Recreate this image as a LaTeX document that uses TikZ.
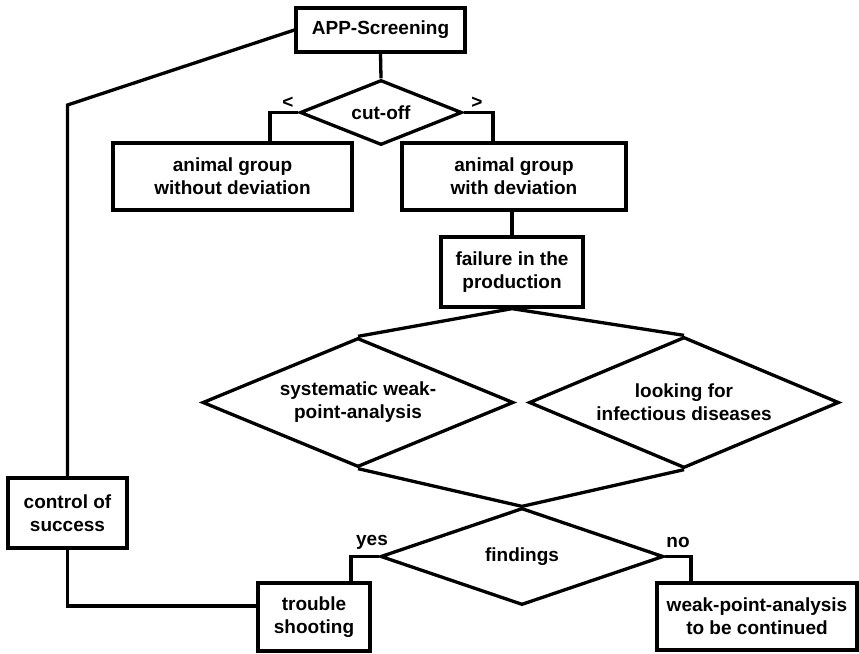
\documentclass[tikz,border=0pt]{standalone}
\usepackage{fontspec}
\setmainfont{Liberation Sans}
\usetikzlibrary{shapes.geometric, positioning}

\begin{document}
\begin{tikzpicture}[
  x=1pt, y=-1pt,
  every node/.style={font=\fontsize{19}{23}\selectfont\bfseries},
  box/.style={draw, line width=3.3pt, inner sep=0pt, align=center},
  dia/.style={draw, diamond, line width=3.3pt, inner sep=0pt, align=center},
  link/.style={line width=3.3pt}
]
  \useasboundingbox (0,0) rectangle (859,653);

  % Screening and cut-off
  \node[box, minimum width=169pt, minimum height=44pt] (app) at (380.5,30) {APP-Screening};
  \node[dia, minimum width=162pt, minimum height=65pt, aspect=2.5] (cut) at (381,112.5) {cut-off};
  \node (lt) at (288,103) {<};
  \node (gt) at (477,103) {>};

  % Animal groups
  \node[box, minimum width=239pt, minimum height=67pt] (nodev) at (232.5,176.5) {animal group\\without deviation};
  \node[box, minimum width=224pt, minimum height=67pt] (dev) at (514,176.5) {animal group\\with deviation};
  \node[box, minimum width=142pt, minimum height=70pt] (fail) at (512,272) {failure in the\\production};

  % Analysis
  \node[dia, minimum width=311pt, minimum height=129pt, aspect=2.4] (sys) at (358,402.5) {systematic weak-\\point-analysis};
  \node[dia, minimum width=310pt, minimum height=131pt, aspect=2.4] (inf) at (684,402.5) {looking for\\infectious diseases};
  \node[dia, minimum width=283pt, minimum height=97pt, aspect=2.9] (find) at (522,556.5) {findings};
  \node (yesl) at (372,542) {yes};
  \node (nol) at (678,542) {no};

  % Results
  \node[box, minimum width=112pt, minimum height=68pt] (trouble) at (314,617) {trouble\\shooting};
  \node[box, minimum width=200pt, minimum height=67pt] (weak) at (757,616.5) {weak-point-analysis\\to be continued};
  \node[box, minimum width=119pt, minimum height=70pt] (ctrl) at (67.5,513) {control of\\success};
  \coordinate (bend) at (67.5,105);

  % Connectors
  \draw[link] (app.south) -- (cut.north);
  \draw[link] (cut.west) -| ([xshift=37.5pt]nodev.north);
  \draw[link] (cut.east) -| ([xshift=-21pt]dev.north);
  \draw[link] (fail.north |- dev.south) -- (fail.north);
  \draw[link] (sys.north) -- (fail.south) -- (inf.north);
  \draw[link] (sys.south) -- (find.north) -- (inf.south);
  \draw[link] (find.west) -| ([xshift=37pt]trouble.north);
  \draw[link] (find.east) -| ([xshift=-66pt]weak.north);
  \draw[link] (app.west) -- (bend) -- (ctrl.north);
  \draw[link] (ctrl.south) |- ([yshift=11pt]trouble.west);
\end{tikzpicture}
\end{document}
